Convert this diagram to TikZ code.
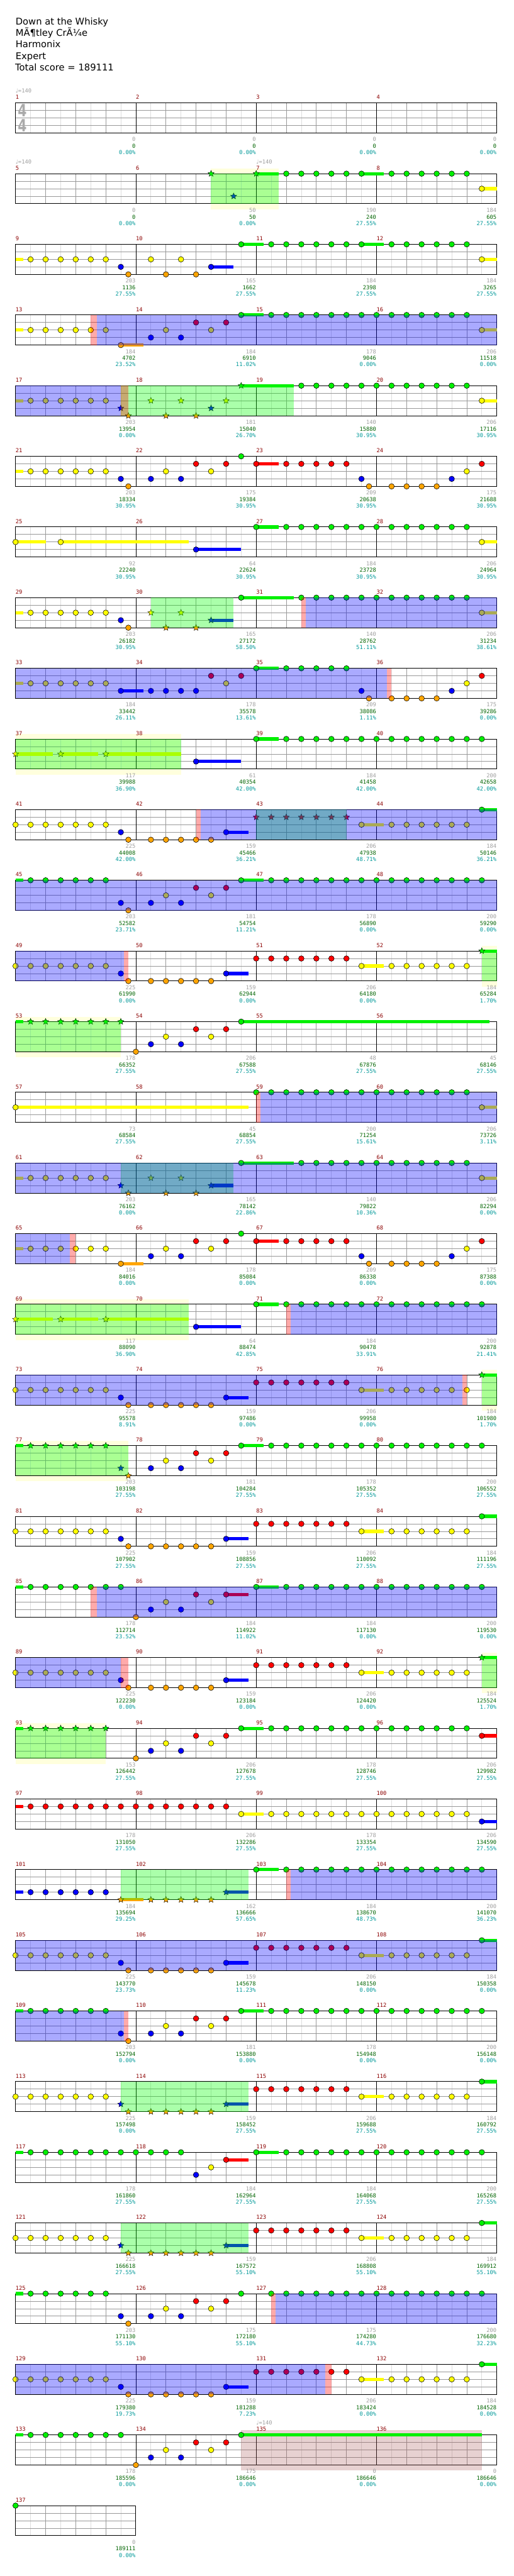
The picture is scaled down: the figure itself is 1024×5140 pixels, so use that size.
\documentclass[tikz,border=0pt]{standalone}
\usepackage{fontspec}
\setmainfont{DejaVu Sans}
\newfontfamily\chartmono{DejaVu Sans Mono}
\usetikzlibrary{shapes.geometric}

% fret colours, lane 0 = green ... lane 4 = orange
\definecolor{lane0}{RGB}{0,240,0}
\definecolor{lane1}{RGB}{255,0,0}
\definecolor{lane2}{RGB}{255,255,0}
\definecolor{lane3}{RGB}{0,0,255}
\definecolor{lane4}{RGB}{255,165,0}
\definecolor{spgreen}{RGB}{0,255,0}
\definecolor{actblue}{RGB}{0,0,255}
\definecolor{pinkred}{RGB}{255,0,0}
\definecolor{soloshade}{RGB}{170,90,90}
\definecolor{bandyellow}{RGB}{255,255,221}
\definecolor{gridgray}{RGB}{153,153,153}
\definecolor{gridlight}{RGB}{221,221,221}
\definecolor{barred}{RGB}{140,0,0}
\definecolor{scoregray}{RGB}{160,160,160}
\definecolor{scoregreen}{RGB}{0,100,0}
\definecolor{scoreteal}{RGB}{0,153,153}
\definecolor{tsgray}{RGB}{170,170,170}

\tikzset{
  fretnote/.style={fill=lane#1, draw=black, line width=0.7pt},
  spnote/.style={star, star points=5, star point ratio=2.2, minimum size=13pt,
    inner sep=0pt, fill=lane#1, draw=black, line width=0.5pt},
  spfill/.style={fill=spgreen, fill opacity=0.333},
  actfill/.style={fill=actblue, fill opacity=0.333},
  pinkfill/.style={fill=pinkred, fill opacity=0.333},
  solofill/.style={fill=soloshade, fill opacity=0.28},
  eighthrule/.style={draw=gridlight, line width=1pt},
  beatrule/.style={draw=gridgray, line width=1pt},
  barrule/.style={draw=black, line width=1pt},
  staffframe/.style={draw=black, line width=1.2pt},
  titleline/.style={anchor=base west, inner sep=0pt, font=\fontsize{18.5}{22}\selectfont},
  barnum/.style={anchor=base west, inner sep=0pt, text=barred, font=\chartmono\fontsize{11}{13}\selectfont},
  ptsline/.style={anchor=base east, inner sep=0pt, text=scoregray, font=\chartmono\fontsize{11}{13}\selectfont},
  cumline/.style={anchor=base east, inner sep=0pt, text=scoregreen, font=\chartmono\fontsize{11}{13}\selectfont},
  pctline/.style={anchor=base east, inner sep=0pt, text=scoreteal, font=\chartmono\fontsize{11}{13}\selectfont},
  tempomark/.style={anchor=base west, inner sep=0pt, text=scoregray, font=\chartmono\fontsize{11}{13}\selectfont},
  timesig/.style={inner sep=0pt, text=tsgray, xscale=0.75, font=\bfseries\fontsize{34}{34}\selectfont}
}

% row #1 of the chart, slots counted in eighths from the left edge
\newcommand{\fretnotes}[3]{\foreach \s in {#3}
  \filldraw[fretnote=#2] ({31+30*\s},{205.5+141*#1+15*#2}) circle (5.5);}
\newcommand{\spnotes}[3]{\foreach \s [count=\k] in {#3}
  \node[spnote=#2] (sp#1x#2x\k) at ({31+30*\s},{205.5+141*#1+15*#2}) {};}
\newcommand{\sustain}[4]{\fill[lane#2] ({31+30*#3},{202.25+141*#1+15*#2}) rectangle ({31+30*#4},{208.75+141*#1+15*#2});}
\newcommand{\spband}[3]{\fill[bandyellow] ({31+30*#2},{195.5+141*#1}) rectangle ({31+30*#3},{276.5+141*#1});}
\newcommand{\spzone}[3]{\fill[spfill] ({31+30*#2},{205.5+141*#1}) rectangle ({31+30*#3},{265.5+141*#1});}
\newcommand{\actzone}[3]{\fill[actfill] ({31+30*#2},{205.5+141*#1}) rectangle ({31+30*#3},{265.5+141*#1});}
\newcommand{\pinkzone}[3]{\fill[pinkfill] ({31+30*#2},{205.5+141*#1}) rectangle ({31+30*#3},{265.5+141*#1});}
\newcommand{\solozone}[3]{\fill[solofill] ({31+30*#2},{195.5+141*#1}) rectangle ({31+30*#3},{276.5+141*#1});}

% recurring figures
\newcommand{\climb}[1]{\fretnotes{#1}{3}{9,11}\fretnotes{#1}{2}{10,13}\fretnotes{#1}{1}{12,14}}
\newcommand{\runA}[1]{\fretnotes{#1}{2}{0,...,6}\fretnotes{#1}{3}{7}\fretnotes{#1}{4}{7.5}
  \fretnotes{#1}{4}{9,...,13}\sustain{#1}{3}{14}{15.5}\fretnotes{#1}{3}{14}}
\newcommand{\runB}[1]{\fretnotes{#1}{1}{16,...,22}\sustain{#1}{2}{23}{24.5}
  \fretnotes{#1}{2}{23,25,26,27,28,29,30}}
\newcommand{\runC}[1]{\sustain{#1}{1}{16}{17.5}\fretnotes{#1}{1}{16,18,19,20,21,22,31}
  \fretnotes{#1}{3}{23,29}\fretnotes{#1}{4}{23.5,25,26,27,28}\fretnotes{#1}{2}{30}}

\begin{document}
\begin{tikzpicture}[x=1pt, y=-1pt]
\useasboundingbox (0,0) rectangle (1024,5140);
\fill[white] (0,0) rectangle (1024,5140);

% heading
\node[titleline] (song) at (31,50) {Down at the Whisky};
\node[titleline] (artist) at (31,72.7) {M\char"C3\char"B6tley Cr\char"C3\char"BC{}e};
\node[titleline] (charter) at (31,95.3) {Harmonix};
\node[titleline] (level) at (31,118) {Expert};
\node[titleline] (total) at (30,141.7) {Total score = 189111};

% pale bands behind some phrases
\spband{1}{13}{17.5}
\spband{9}{0}{11}
\spband{12}{31}{32}
\spband{13}{0}{7}
\spband{17}{0}{11.5}
\spband{18}{31}{32}
\spband{19}{0}{7.5}
\spband{22}{31}{32}
\spband{23}{0}{6}

% staves
\foreach \r in {0,...,33} {
  \foreach \k in {1,3,...,31}
    \draw[eighthrule] ({31+30*\k},{205.5+141*\r}) -- ++(0,60);
  \foreach \k in {2,4,6,10,12,14,18,20,22,26,28,30}
    \draw[beatrule] ({31+30*\k},{205.5+141*\r}) -- ++(0,60);
  \foreach \k in {1,2,3}
    \draw[beatrule] (31,{205.5+141*\r+15*\k}) -- ++(960,0);
  \foreach \k in {8,16,24}
    \draw[barrule] ({31+30*\k},{205.5+141*\r}) -- ++(0,60);
  \draw[staffframe] (31,{205.5+141*\r}) rectangle ++(960,60);
}
\foreach \k in {1,3,5,7}
  \draw[eighthrule] ({31+30*\k},4999.5) -- ++(0,60);
\foreach \k in {2,4,6}
  \draw[beatrule] ({31+30*\k},4999.5) -- ++(0,60);
\foreach \k in {1,2,3}
  \draw[beatrule] (31,{4999.5+15*\k}) -- ++(240,0);
\draw[staffframe] (31,4999.5) rectangle ++(240,60);

\node[timesig] (tsnum) at (44.5,221) {4};
\node[timesig] (tsden) at (44.5,251) {4};

% 5-8
\sustain{1}{0}{16}{17.5}\sustain{1}{0}{23}{24.5}\sustain{1}{2}{31}{32}
\spnotes{1}{0}{13,16}\spnotes{1}{3}{14.5}
\fretnotes{1}{0}{18,...,23}\fretnotes{1}{0}{25,...,30}\fretnotes{1}{2}{31}
\spzone{1}{13}{17.5}

% 9-12
\sustain{2}{2}{0}{0.5}\sustain{2}{3}{13}{14.5}\sustain{2}{0}{15}{16.5}
\sustain{2}{0}{23}{24.5}\sustain{2}{2}{31}{32}
\fretnotes{2}{2}{1,...,6}\fretnotes{2}{3}{7}\fretnotes{2}{4}{7.5}
\fretnotes{2}{2}{9,11}\fretnotes{2}{4}{10,12}\fretnotes{2}{3}{13}\fretnotes{2}{0}{15}
\fretnotes{2}{0}{17,...,23}\fretnotes{2}{0}{25,...,30}\fretnotes{2}{2}{31}

% 13-16
\sustain{3}{2}{0}{0.5}\sustain{3}{4}{7}{8.5}\sustain{3}{0}{15}{16.5}\sustain{3}{2}{31}{32}
\fretnotes{3}{2}{1,...,6}\fretnotes{3}{4}{7}\climb{3}
\fretnotes{3}{0}{15}\fretnotes{3}{0}{17,...,30}\fretnotes{3}{2}{31}
\pinkzone{3}{5}{5.4}\actzone{3}{5.4}{32}

% 17-20
\sustain{4}{2}{0}{0.5}\sustain{4}{0}{15}{18.5}\sustain{4}{2}{31}{32}
\fretnotes{4}{2}{1,...,6}
\spnotes{4}{3}{7,13}\spnotes{4}{4}{7.5,10,12}\spnotes{4}{2}{9,11,14}\spnotes{4}{0}{15}
\fretnotes{4}{0}{19,...,30}\fretnotes{4}{2}{31}
\actzone{4}{0}{7}\spzone{4}{7}{18.5}\pinkzone{4}{7}{7.5}

% 21-24
\sustain{5}{2}{0}{0.5}
\fretnotes{5}{2}{1,...,6}\fretnotes{5}{3}{7}\fretnotes{5}{4}{7.5}\climb{5}\fretnotes{5}{0}{15}
\runC{5}

% 25-28
\sustain{6}{2}{0}{2}\sustain{6}{2}{3}{11.5}\sustain{6}{3}{12}{15}
\sustain{6}{0}{16}{17.5}\sustain{6}{2}{31}{32}
\fretnotes{6}{2}{0,3,31}\fretnotes{6}{3}{12}\fretnotes{6}{0}{16}\fretnotes{6}{0}{18,...,30}

% 29-32
\sustain{7}{2}{0}{0.5}\sustain{7}{3}{13}{14.5}\sustain{7}{0}{15}{18.5}\sustain{7}{2}{31}{32}
\fretnotes{7}{2}{1,...,6}\fretnotes{7}{3}{7}\fretnotes{7}{4}{7.5}
\spnotes{7}{2}{9,11}\spnotes{7}{4}{10,12}\spnotes{7}{3}{13}
\fretnotes{7}{0}{15}\fretnotes{7}{0}{19,...,30}\fretnotes{7}{2}{31}
\spzone{7}{9}{14.5}\pinkzone{7}{19}{19.3}\actzone{7}{19.3}{32}

% 33-36
\sustain{8}{2}{0}{0.5}\sustain{8}{3}{7}{8.5}\sustain{8}{0}{16}{17.5}
\fretnotes{8}{2}{1,...,6}\fretnotes{8}{3}{7,9,10,11,12}\fretnotes{8}{1}{13,15}\fretnotes{8}{2}{14}
\fretnotes{8}{0}{16,18,19,20,21,22}\fretnotes{8}{3}{23,29}\fretnotes{8}{4}{23.5,25,26,27,28}
\fretnotes{8}{2}{30}\fretnotes{8}{1}{31}
\actzone{8}{0}{24.7}\pinkzone{8}{24.7}{25}

% 37-40
\sustain{9}{2}{0}{2.5}\sustain{9}{2}{3}{5.5}\sustain{9}{2}{6}{11}
\sustain{9}{3}{12}{15}\sustain{9}{0}{16}{17.5}
\spnotes{9}{2}{0,3,6}\fretnotes{9}{3}{12}\fretnotes{9}{0}{16}\fretnotes{9}{0}{18,...,31}
\spzone{9}{0}{11}

% 41-44
\runA{10}\sustain{10}{2}{23}{24.5}\sustain{10}{0}{31}{32}
\spnotes{10}{1}{16,...,22}\fretnotes{10}{2}{23,25,26,27,28,29,30}\fretnotes{10}{0}{31}
\spzone{10}{16}{22}\pinkzone{10}{12}{12.3}\actzone{10}{12.3}{32}

% 45-48
\sustain{11}{0}{0}{0.5}\sustain{11}{0}{15}{16.5}
\fretnotes{11}{0}{1,...,6}\fretnotes{11}{3}{7}\fretnotes{11}{4}{7.5}\climb{11}
\fretnotes{11}{0}{15}\fretnotes{11}{0}{17,...,31}
\actzone{11}{0}{32}

% 49-52
\runA{12}\runB{12}\sustain{12}{0}{31}{32}\spnotes{12}{0}{31}
\actzone{12}{0}{7.2}\pinkzone{12}{7.2}{7.5}\spzone{12}{31}{32}

% 53-56
\sustain{13}{0}{0}{0.5}\sustain{13}{0}{15}{31.5}
\spnotes{13}{0}{1,...,7}\fretnotes{13}{4}{8}\climb{13}\fretnotes{13}{0}{15}
\spzone{13}{0}{7}

% 57-60
\sustain{14}{2}{0}{15.5}\sustain{14}{2}{31}{32}
\fretnotes{14}{2}{0,31}\fretnotes{14}{0}{16,...,30}
\pinkzone{14}{16}{16.3}\actzone{14}{16.3}{32}

% 61-64
\sustain{15}{2}{0}{0.5}\sustain{15}{3}{13}{14.5}\sustain{15}{0}{15}{18.5}\sustain{15}{2}{31}{32}
\fretnotes{15}{2}{1,...,6}
\spnotes{15}{3}{7,13}\spnotes{15}{4}{7.5,10,12}\spnotes{15}{2}{9,11}
\fretnotes{15}{0}{15}\fretnotes{15}{0}{19,...,30}\fretnotes{15}{2}{31}
\spzone{15}{7}{14.5}\actzone{15}{0}{32}

% 65-68
\sustain{16}{2}{0}{0.5}\sustain{16}{4}{7}{8.5}
\fretnotes{16}{2}{1,...,6}\fretnotes{16}{4}{7}\climb{16}\fretnotes{16}{0}{15}\runC{16}
\actzone{16}{0}{3.6}\pinkzone{16}{3.6}{4}

% 69-72
\sustain{17}{2}{0}{2.5}\sustain{17}{2}{3}{5.5}\sustain{17}{2}{6}{11.5}
\sustain{17}{3}{12}{15}\sustain{17}{0}{16}{17.5}
\spnotes{17}{2}{0,3,6}\fretnotes{17}{3}{12}\fretnotes{17}{0}{16}\fretnotes{17}{0}{18,...,31}
\spzone{17}{0}{11.5}\pinkzone{17}{18}{18.3}\actzone{17}{18.3}{32}

% 73-76
\runA{18}\runB{18}\sustain{18}{0}{31}{32}\spnotes{18}{0}{31}
\actzone{18}{0}{29.7}\pinkzone{18}{29.7}{30}\spzone{18}{31}{32}

% 77-80
\sustain{19}{0}{0}{0.5}\sustain{19}{0}{15}{16.5}
\spnotes{19}{0}{1,...,6}\spnotes{19}{3}{7}\spnotes{19}{4}{7.5}\climb{19}
\fretnotes{19}{0}{15}\fretnotes{19}{0}{17,...,31}
\spzone{19}{0}{7.5}

% 81-84
\runA{20}\runB{20}\sustain{20}{0}{31}{32}\fretnotes{20}{0}{31}

% 85-88
\sustain{21}{0}{0}{0.5}\sustain{21}{1}{14}{15.5}\sustain{21}{0}{16}{17.5}
\fretnotes{21}{0}{1,...,7}\fretnotes{21}{4}{8}\climb{21}\fretnotes{21}{0}{16}\fretnotes{21}{0}{18,...,31}
\pinkzone{21}{5}{5.4}\actzone{21}{5.4}{32}

% 89-92
\runA{22}\runB{22}\sustain{22}{0}{31}{32}\spnotes{22}{0}{31}
\actzone{22}{0}{7}\pinkzone{22}{7}{7.5}\spzone{22}{31}{32}

% 93-96
\sustain{23}{0}{0}{0.5}\sustain{23}{0}{15}{16.5}\sustain{23}{1}{31}{32}
\spnotes{23}{0}{1,...,6}\fretnotes{23}{4}{8}\climb{23}
\fretnotes{23}{0}{15}\fretnotes{23}{0}{17,...,30}\fretnotes{23}{1}{31}
\spzone{23}{0}{6}

% 97-100
\sustain{24}{1}{0}{0.5}\sustain{24}{2}{15}{16.5}\sustain{24}{3}{31}{32}
\fretnotes{24}{1}{1,...,14}\fretnotes{24}{2}{15}\fretnotes{24}{2}{17,...,30}\fretnotes{24}{3}{31}

% 101-104
\sustain{25}{3}{0}{0.5}\sustain{25}{4}{7}{8.5}\sustain{25}{3}{14}{15.5}\sustain{25}{0}{16}{17.5}
\fretnotes{25}{3}{1,...,6}\spnotes{25}{4}{7,9,10,11,12,13}\spnotes{25}{3}{14}
\fretnotes{25}{0}{16}\fretnotes{25}{0}{18,...,31}
\spzone{25}{7}{15.5}\pinkzone{25}{18}{18.3}\actzone{25}{18.3}{32}

% 105-108
\runA{26}\runB{26}\sustain{26}{0}{31}{32}\fretnotes{26}{0}{31}
\actzone{26}{0}{32}

% 109-112
\sustain{27}{0}{0}{0.5}\sustain{27}{0}{15}{16.5}
\fretnotes{27}{0}{1,...,6}\fretnotes{27}{3}{7}\fretnotes{27}{4}{7.5}\climb{27}
\fretnotes{27}{0}{15}\fretnotes{27}{0}{17,...,31}
\actzone{27}{0}{7.2}\pinkzone{27}{7.2}{7.5}

% 113-116
\sustain{28}{3}{14}{15.5}
\fretnotes{28}{2}{0,...,6}\spnotes{28}{3}{7,14}\spnotes{28}{4}{7.5,9,10,11,12,13}
\runB{28}\sustain{28}{0}{31}{32}\fretnotes{28}{0}{31}
\spzone{28}{7}{15.5}

% 117-120
\sustain{29}{0}{0}{0.5}\sustain{29}{1}{14}{15.5}\sustain{29}{0}{16}{17.5}
\fretnotes{29}{0}{1,...,11}\fretnotes{29}{3}{12}\fretnotes{29}{2}{13}\fretnotes{29}{1}{14}
\fretnotes{29}{0}{16}\fretnotes{29}{0}{18,...,31}

% 121-124
\sustain{30}{3}{14}{15.5}
\fretnotes{30}{2}{0,...,6}\spnotes{30}{3}{7,14}\spnotes{30}{4}{7.5,9,10,11,12,13}
\runB{30}\sustain{30}{0}{31}{32}\fretnotes{30}{0}{31}
\spzone{30}{7}{15.5}

% 125-128
\sustain{31}{0}{0}{0.5}
\fretnotes{31}{0}{1,...,6}\fretnotes{31}{3}{7}\fretnotes{31}{4}{7.5}\climb{31}
\fretnotes{31}{0}{15}\fretnotes{31}{0}{17,...,31}
\pinkzone{31}{17}{17.3}\actzone{31}{17.3}{32}

% 129-132
\runA{32}\runB{32}\sustain{32}{0}{31}{32}\fretnotes{32}{0}{31}
\actzone{32}{0}{20.6}\pinkzone{32}{20.6}{21}

% 133-136
\solozone{33}{15}{31}
\sustain{33}{0}{0}{0.5}\sustain{33}{0}{15}{31}
\fretnotes{33}{0}{1,...,7}\fretnotes{33}{4}{8}\climb{33}\fretnotes{33}{0}{15}

% 137
\fretnotes{34}{0}{0}

% tempo marks
\node[tempomark] (tempo1) at (31,185.3) {{\rmfamily\char"2669}=140};
\node[tempomark] (tempo5) at (31,326.3) {{\rmfamily\char"2669}=140};
\node[tempomark] (tempo7) at (511,326.3) {{\rmfamily\char"2669}=140};
\node[tempomark] (tempo135) at (511,4838.3) {{\rmfamily\char"2669}=140};

% bar numbers and running scores
\foreach \m/\a/\b/\p in {1/0/0/0.00, 2/0/0/0.00, 3/0/0/0.00, 4/0/0/0.00,
  5/0/0/0.00, 6/50/50/0.00, 7/190/240/27.55, 8/184/605/27.55,
  9/203/1136/27.55, 10/165/1662/27.55, 11/184/2398/27.55, 12/184/3265/27.55,
  13/184/4702/23.52, 14/184/6910/11.02, 15/178/9046/0.00, 16/206/11518/0.00,
  17/203/13954/0.00, 18/181/15040/26.70, 19/140/15880/30.95, 20/206/17116/30.95,
  21/203/18334/30.95, 22/175/19384/30.95, 23/209/20638/30.95, 24/175/21688/30.95,
  25/92/22240/30.95, 26/64/22624/30.95, 27/184/23728/30.95, 28/206/24964/30.95,
  29/203/26182/30.95, 30/165/27172/58.50, 31/140/28762/51.11, 32/206/31234/38.61,
  33/184/33442/26.11, 34/178/35578/13.61, 35/209/38086/1.11, 36/175/39286/0.00,
  37/117/39988/36.90, 38/61/40354/42.00, 39/184/41458/42.00, 40/200/42658/42.00,
  41/225/44008/42.00, 42/159/45466/36.21, 43/206/47938/48.71, 44/184/50146/36.21,
  45/203/52582/23.71, 46/181/54754/11.21, 47/178/56890/0.00, 48/200/59290/0.00,
  49/225/61990/0.00, 50/159/62944/0.00, 51/206/64180/0.00, 52/184/65284/1.70,
  53/178/66352/27.55, 54/206/67588/27.55, 55/48/67876/27.55, 56/45/68146/27.55,
  57/73/68584/27.55, 58/45/68854/27.55, 59/200/71254/15.61, 60/206/73726/3.11,
  61/203/76162/0.00, 62/165/78142/22.86, 63/140/79822/10.36, 64/206/82294/0.00,
  65/184/84016/0.00, 66/178/85084/0.00, 67/209/86338/0.00, 68/175/87388/0.00,
  69/117/88090/36.90, 70/64/88474/42.85, 71/184/90478/33.91, 72/200/92878/21.41,
  73/225/95578/8.91, 74/159/97486/0.00, 75/206/99958/0.00, 76/184/101980/1.70,
  77/203/103198/27.55, 78/181/104284/27.55, 79/178/105352/27.55, 80/200/106552/27.55,
  81/225/107902/27.55, 82/159/108856/27.55, 83/206/110092/27.55, 84/184/111196/27.55,
  85/178/112714/23.52, 86/184/114922/11.02, 87/184/117130/0.00, 88/200/119530/0.00,
  89/225/122230/0.00, 90/159/123184/0.00, 91/206/124420/0.00, 92/184/125524/1.70,
  93/153/126442/27.55, 94/206/127678/27.55, 95/178/128746/27.55, 96/206/129982/27.55,
  97/178/131050/27.55, 98/206/132286/27.55, 99/178/133354/27.55, 100/206/134590/27.55,
  101/184/135694/29.25, 102/162/136666/57.65, 103/184/138670/48.73, 104/200/141070/36.23,
  105/225/143770/23.73, 106/159/145678/11.23, 107/206/148150/0.00, 108/184/150358/0.00,
  109/203/152794/0.00, 110/181/153880/0.00, 111/178/154948/0.00, 112/200/156148/0.00,
  113/225/157498/0.00, 114/159/158452/27.55, 115/206/159688/27.55, 116/184/160792/27.55,
  117/178/161860/27.55, 118/184/162964/27.55, 119/184/164068/27.55, 120/200/165268/27.55,
  121/225/166618/27.55, 122/159/167572/55.10, 123/206/168808/55.10, 124/184/169912/55.10,
  125/203/171130/55.10, 126/175/172180/55.10, 127/175/174280/44.73, 128/200/176680/32.23,
  129/225/179380/19.73, 130/159/181288/7.23, 131/206/183424/0.00, 132/184/184528/0.00,
  133/178/185596/0.00, 134/175/186646/0.00, 135/0/186646/0.00, 136/0/186646/0.00,
  137/0/189111/0.00} {
  \pgfmathtruncatemacro\r{(\m-1)/4}
  \pgfmathtruncatemacro\c{\m-1-4*\r}
  \node[barnum] (bar\m) at ({31+240*\c},{198.2+141*\r}) {\m};
  \node[ptsline] (pts\m) at ({270.5+240*\c},{282.3+141*\r}) {\a};
  \node[cumline] (cum\m) at ({270.5+240*\c},{295.7+141*\r}) {\b};
  \node[pctline] (pct\m) at ({270.5+240*\c},{308.5+141*\r}) {\p\%};
}
\end{tikzpicture}
\end{document}
